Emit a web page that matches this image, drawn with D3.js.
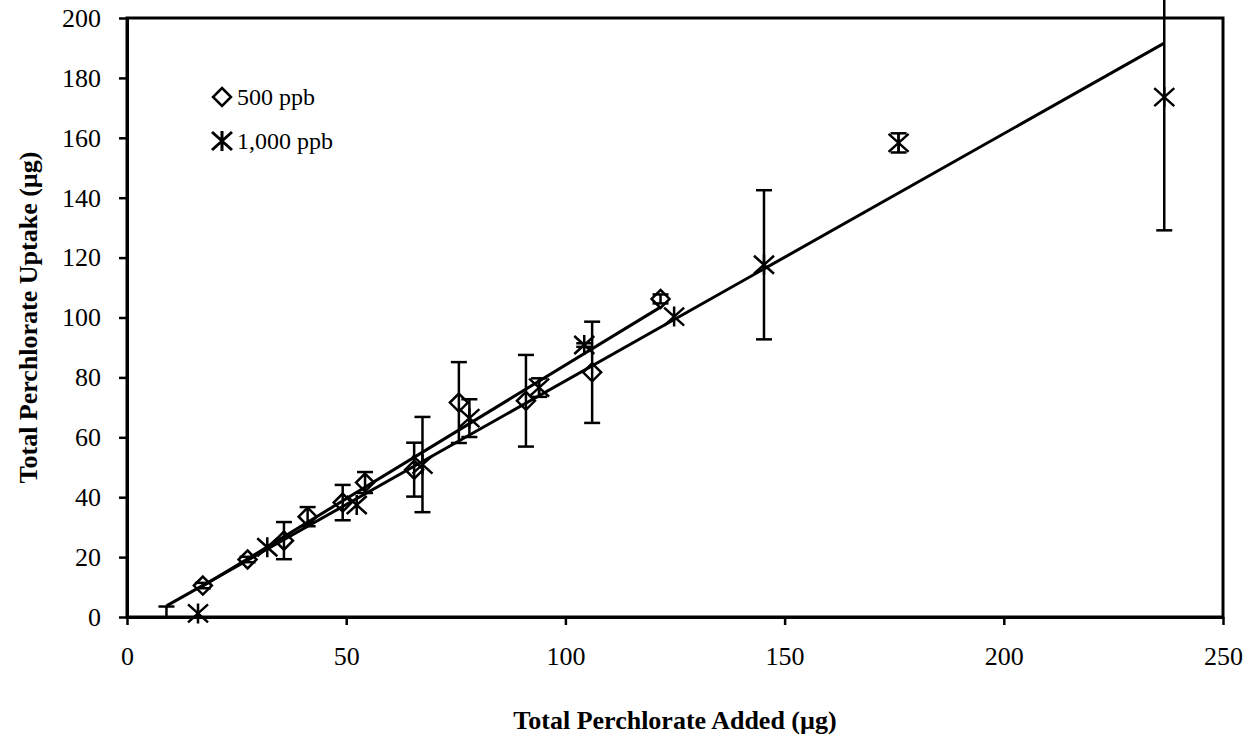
<!DOCTYPE html>
<html>
<head>
<meta charset="utf-8">
<script src="https://cdn.jsdelivr.net/npm/d3@7"></script>
<style>
  body { margin: 0; background: #fff; }
  svg { font-family: "Liberation Serif", "Times New Roman", serif; }
</style>
</head>
<body>
<svg id="chart" width="1250" height="740"></svg>
<script>
// 500 ppb series (diamonds)
var x500 = [17.3, 27.5, 35.8, 41.2, 49.2, 54.3, 65.5, 75.7, 91.0, 106.1, 121.7];
var y500 = [10.5, 19.2, 25.5, 33.5, 38.2, 44.9, 49.2, 71.6, 72.2, 81.7, 106.2];
var e500 = [0.9, 0.9, 6.2, 3.2, 5.9, 3.5, 9.0, 13.5, 15.3, 16.9, 1.5];

// 1,000 ppb series (asterisks)
var x1000 = [9.0, 16.2, 32.0, 52.4, 67.4, 78.1, 94.0, 104.3, 124.8, 145.3, 176.0, 236.6];
var y1000 = [-1.0, 1.2, 23.3, 37.4, 50.9, 66.4, 76.6, 90.8, 100.3, 117.6, 158.3, 173.6];
var e1000 = [4.5, 0, 0, 0, 15.9, 6.3, 3.1, 0.6, 0, 24.9, 3.2, 44.5];

// linear trendlines [x start, x end, slope, intercept]
var trend500 = [17.3, 121.7, 0.892, -5.1];
var trend1000 = [9.0, 236.6, 0.8256, -3.73];

var xTicks = [0, 50, 100, 150, 200, 250];
var yTicks = [0, 20, 40, 60, 80, 100, 120, 140, 160, 180, 200];

var svg = d3.select("#chart");
var plotLeft = 127, plotRight = 1223, plotTop = 18, plotBottom = 617;

var x = d3.scaleLinear().domain([0, 250]).range([plotLeft, plotRight]);
var y = d3.scaleLinear().domain([0, 200]).range([plotBottom, plotTop]);

// plot frame
svg.append("rect")
    .attr("x", plotLeft).attr("y", plotTop)
    .attr("width", plotRight - plotLeft).attr("height", plotBottom - plotTop)
    .attr("fill", "none").attr("stroke", "#000").attr("stroke-width", 3);

var xAxis = svg.append("g")
    .attr("transform", "translate(0," + plotBottom + ")")
    .call(d3.axisBottom(x).tickValues(xTicks).tickSizeInner(8).tickSizeOuter(0).tickPadding(22));
var yAxis = svg.append("g")
    .attr("transform", "translate(" + plotLeft + ",0)")
    .call(d3.axisLeft(y).tickValues(yTicks).tickSizeInner(8).tickSizeOuter(0).tickPadding(18));

[xAxis, yAxis].forEach(function (a) {
    a.select(".domain").attr("stroke-width", 3);
    a.selectAll(".tick line").attr("stroke-width", 2.5);
    a.selectAll(".tick text")
        .attr("font-family", "Liberation Serif")
        .attr("font-size", 26)
        .attr("fill", "#000");
});

// axis titles
svg.append("text")
    .attr("x", (plotLeft + plotRight) / 2).attr("y", 729)
    .attr("text-anchor", "middle")
    .attr("font-size", 26).attr("font-weight", "bold")
    .text("Total Perchlorate Added (µg)");
svg.append("text")
    .attr("transform", "translate(37," + ((plotTop + plotBottom) / 2) + ") rotate(-90)")
    .attr("text-anchor", "middle")
    .attr("font-size", 26).attr("font-weight", "bold")
    .text("Total Perchlorate Uptake (µg)");

function makeSeries(xs, ys, es) {
    return xs.map(function (d, i) { return {x: d, y: ys[i], e: es[i]}; });
}
var s500 = makeSeries(x500, y500, e500);
var s1000 = makeSeries(x1000, y1000, e1000);

// error bars
function errorBars(data) {
    var g = svg.append("g").attr("stroke", "#000").attr("stroke-width", 2.5);
    data.filter(function (d) { return d.e > 0; }).forEach(function (d) {
        var cx = x(d.x);
        var lo = y(Math.max(d.y - d.e, 0)), hi = y(d.y + d.e);
        g.append("line").attr("x1", cx).attr("x2", cx).attr("y1", lo).attr("y2", hi);
        if (d.y - d.e >= 0) g.append("line").attr("x1", cx - 8).attr("x2", cx + 8).attr("y1", lo).attr("y2", lo);
        g.append("line").attr("x1", cx - 8).attr("x2", cx + 8).attr("y1", hi).attr("y2", hi);
    });
}
errorBars(s500);
errorBars(s1000);

// trendlines
function trendline(t) {
    svg.append("line")
        .attr("x1", x(t[0])).attr("y1", y(t[2] * t[0] + t[3]))
        .attr("x2", x(t[1])).attr("y2", y(t[2] * t[1] + t[3]))
        .attr("stroke", "#000").attr("stroke-width", 3);
}
trendline(trend500);
trendline(trend1000);

var diamondPath = "M0,-9L9,0L0,9L-9,0Z";
var starPath = "M-10,-9L10,9M-10,9L10,-9M0,-10L0,10";

function inRange(d) { return d.y >= 0 && d.y <= 200; }

svg.append("g").selectAll("path")
    .data(s500.filter(inRange))
    .enter().append("path")
    .attr("d", diamondPath)
    .attr("transform", function (d) { return "translate(" + x(d.x) + "," + y(d.y) + ")"; })
    .attr("fill", "none").attr("stroke", "#000").attr("stroke-width", 2.5);

svg.append("g").selectAll("path")
    .data(s1000.filter(inRange))
    .enter().append("path")
    .attr("d", starPath)
    .attr("transform", function (d) { return "translate(" + x(d.x) + "," + y(d.y) + ")"; })
    .attr("fill", "none").attr("stroke", "#000").attr("stroke-width", 2.5);

// legend
var legend = svg.append("g");
legend.append("path").attr("d", diamondPath)
    .attr("transform", "translate(222,97)")
    .attr("fill", "none").attr("stroke", "#000").attr("stroke-width", 2.5);
legend.append("text").attr("x", 237).attr("y", 105)
    .attr("font-size", 24).text("500 ppb");
legend.append("path").attr("d", starPath)
    .attr("transform", "translate(222,141)")
    .attr("fill", "none").attr("stroke", "#000").attr("stroke-width", 3);
legend.append("text").attr("x", 237).attr("y", 149)
    .attr("font-size", 24).text("1,000 ppb");
</script>
</body>
</html>
